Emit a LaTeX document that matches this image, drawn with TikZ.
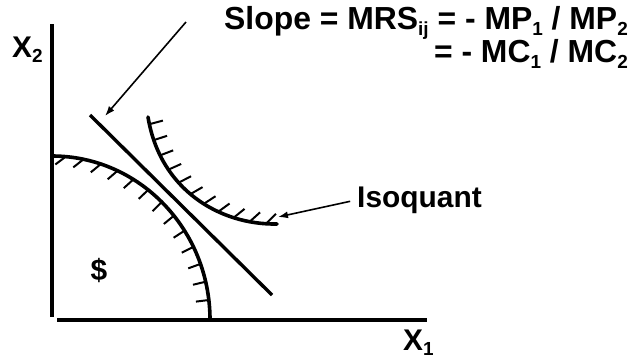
\documentclass[tikz,border=0pt]{standalone}
\usepackage{fontspec}
\setmainfont{Liberation Sans}
\usetikzlibrary{arrows.meta,decorations.markings}
\newcommand{\lowidx}[1]{\raisebox{-0.2em}{\fontsize{19}{19}\selectfont #1}}
\tikzset{
  axisline/.style={line width=4bp},
  curveline/.style={line width=3.6bp,line cap=round},
  hatchmark/.style={line width=2bp},
  callout/.style={line width=1.6bp,-{Latex[length=10bp,width=7bp]}},
  lbl/.style={font=\fontsize{30}{30}\selectfont\bfseries,inner sep=0bp},
  biglbl/.style={lbl,font=\fontsize{32}{32}\selectfont\bfseries},
}

\begin{document}
\begin{tikzpicture}[x=1bp,y=-1bp]
  \path[use as bounding box] (0,0) rectangle (631,360);

  % axes
  \draw[axisline] (52,24) -- (52,317);
  \draw[axisline] (57,320) -- (427,320);
  \node[lbl,anchor=base west] (xtwo) at (12,57) {X\lowidx{2}};
  \node[lbl,anchor=base west] (xone) at (403,350) {X\lowidx{1}};

  % isocost curve, hatched inside
  \draw[curveline] (52,156) arc[start angle=-90,end angle=0,x radius=158,y radius=164];
  \foreach \i in {0,...,12} {
    \pgfmathsetmacro\tt{85-6.5*\i}
    \pgfmathsetmacro\tang{180-\tt+max(0,\tt-45)*1.2}
    \draw[hatchmark] ({52+158*cos(\tt)},{320-164*sin(\tt)}) -- ++(\tang:13);
  }
  \node[lbl,anchor=base] (dollar) at (99,280) {\$};

  % tangent line
  \draw[line width=3.4bp] (90,115) -- (272,295);

  % isoquant, hatched outside
  \draw[curveline,postaction={decorate},decoration={markings,
      mark=between positions 0.04 and 0.94 step 0.09 with {
        \pgfmathsetmacro\hang{12+3*\pgfkeysvalueof{/pgf/decoration/mark info/sequence number}}
        \pgftransformresetnontranslations
        \draw[hatchmark,line cap=butt] (0,0) -- (\hang:14bp);}}]
    (148,117) .. controls (160,190) and (220,225) .. (277,224);

  % labels and callouts
  \node[biglbl,anchor=base east] (slopeA) at (628,29)
    {Slope = MRS\lowidx{ij} = - MP\lowidx{1} / MP\lowidx{2}};
  \node[biglbl,anchor=base east] (slopeB) at (628,62)
    {= - MC\lowidx{1} / MC\lowidx{2}};
  \node[lbl,anchor=base west] (isoq) at (357,207) {Isoquant};

  \coordinate (slopetail) at (186,22);
  \coordinate (tantip) at (105,116);
  \coordinate (isoqtip) at (278,217);
  \draw[callout] (slopetail) -- (tantip);
  \draw[callout,shorten <=7bp] (isoq.west) -- (isoqtip);
\end{tikzpicture}
\end{document}
